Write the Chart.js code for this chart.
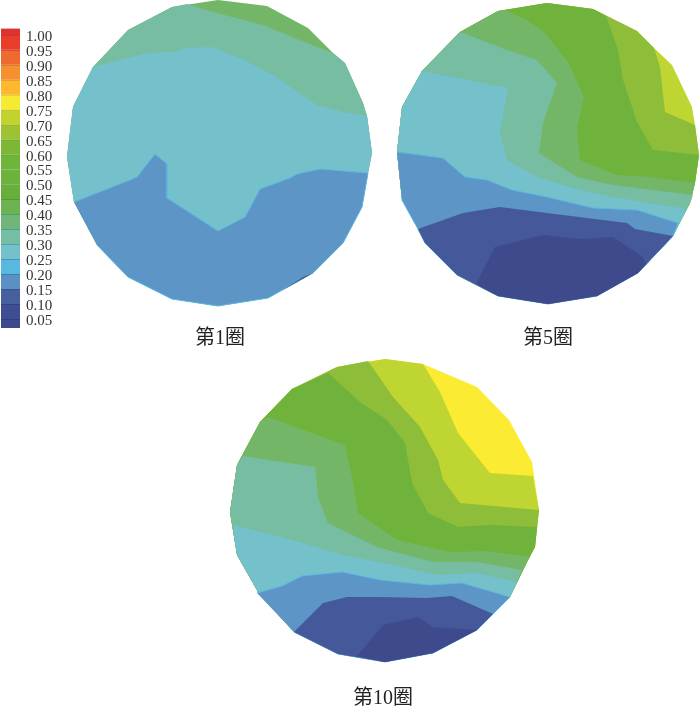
<!DOCTYPE html>
<html><head><meta charset="utf-8">
<script src="https://cdn.jsdelivr.net/npm/chart.js@4/dist/chart.umd.min.js"></script>
<style>
html,body{margin:0;padding:0;background:#fff;overflow:hidden;width:700px;height:706px}
canvas{position:absolute;display:block}
</style></head><body>
<canvas id="bar" width="56" height="344" style="left:1px;top:5px"></canvas>
<canvas id="c1" width="320" height="349" style="left:60px;top:0"></canvas>
<canvas id="c5" width="304" height="349" style="left:396px;top:0"></canvas>
<canvas id="c10" width="320" height="354" style="left:223px;top:355px"></canvas>
<script>
// colour bar
const barEdges=[1.02,1.00,0.95,0.90,0.85,0.80,0.75,0.70,0.65,0.60,0.55,0.50,0.45,0.40,0.35,0.30,0.25,0.20,0.15,0.10,0.05,0.02];
const barColors=['#dc3230','#ea3c2b','#ee6a2f','#f58f2f','#fdb82e','#f6ea32','#c3d22f','#9dc232','#7cb735','#6fb53a','#6db33b','#68ae3a','#6eb351','#72b57a','#74bfa4','#74c0cb','#58b9e0','#5b90c4','#46609f','#3f4e93','#3e4a8e'];
const barEdgeColors=['#dc3230','#a83026','#b03a22','#c06a22','#c8902a','#d0b82a','#a8b82a','#86a82a','#5fa02f','#4fa030','#4fa030','#3f8a2e','#3f9040','#3a9a78','#3fa090','#40a0a8','#4090b8','#3f70a8','#30457f','#2c3a78','#2c3a78'];
const tickLabels=[1.00,0.95,0.90,0.85,0.80,0.75,0.70,0.65,0.60,0.55,0.50,0.45,0.40,0.35,0.30,0.25,0.20,0.15,0.10,0.05];

// shared band colours
const YEL='#fbec33',LIME='#bfd531',OLV='#8dbd39',GRN='#6fb33c',LGRN='#73b668',TEAL='#76bda2',CYAN='#74c0cb',BLUE='#5c95c6',NAVY='#45599a',DARK='#3f4a8d';
const RIMLINE='#5ab8e0';

// circle 1
const title1='第1圈';
const rim1=[[218,0],[267,6],[308,28],[333,53],[345,63],[363,103],[367,116],[372,153],[368,173],[362,207],[343,243],[313,273],[268,298],[218,306],[172,299],[128,277],[97,245],[74,202],[67,157],[73,107],[93,67],[128,30],[172,7]];
const colors1=[LGRN,TEAL,CYAN,BLUE,NAVY];
const iso1=[
 [[187,4],[217,13],[263,25],[307,43],[333,53]],
 [[93,67],[147,53],[173,52],[185,48],[212,47],[240,58],[273,75],[317,105],[343,112],[367,116]],
 [[74,202],[130,180],[137,177],[155,154],[167,164],[167,198],[218,231],[245,217],[250,208],[260,189],[290,178],[297,174],[320,169],[368,173]],
 [[283,290],[303,277],[313,273]]
];

// circle 5
const title5='第5圈';
const rim5=[[547,3],[593,9],[637,31],[654,48],[672,65],[692,107],[695,125],[699,155],[695,183],[690,203],[673,236],[638,273],[597,296],[548,304],[498,296],[457,275],[425,243],[418,229],[402,200],[397,152],[402,107],[422,71],[460,32],[498,11]];
const colors5=[LIME,OLV,GRN,LGRN,TEAL,CYAN,BLUE,NAVY,DARK];
const iso5=[
 [[654,48],[660,67],[665,112],[695,125]],
 [[606,16],[618,50],[623,80],[637,122],[653,150],[699,155]],
 [[505,10],[527,20],[545,33],[568,62],[584,97],[577,128],[580,160],[617,175],[650,177],[695,183]],
 [[460,32],[507,50],[537,60],[557,83],[543,123],[539,153],[577,177],[613,185],[637,188],[693,195]],
 [[422,71],[508,88],[500,132],[507,160],[540,178],[580,190],[613,197],[687,209]],
 [[397,152],[443,158],[465,177],[487,180],[512,190],[547,197],[593,208],[637,210],[678,223]],
 [[418,229],[463,213],[500,207],[547,213],[627,223],[635,229],[673,236]],
 [[476,284],[495,247],[543,235],[580,239],[613,237],[643,257],[646,264]]
];

// circle 10
const title10='第10圈';
const rim10=[[385,359],[423,364],[477,387],[509,420],[532,462],[539,510],[535,547],[528,560],[510,597],[477,630],[433,653],[385,662],[338,654],[294,632],[258,592],[237,555],[230,512],[237,465],[260,422],[292,389],[337,367]];
const colors10=[YEL,LIME,OLV,GRN,LGRN,TEAL,CYAN,BLUE,NAVY,DARK];
const iso10=[
 [[423,364],[440,392],[458,433],[490,473],[533,476]],
 [[368,361],[393,397],[420,427],[438,460],[443,480],[460,503],[539,510]],
 [[328,373],[360,402],[387,420],[405,443],[412,483],[428,513],[458,527],[490,525],[537,527]],
 [[268,417],[345,445],[352,477],[358,513],[397,540],[450,552],[487,551],[530,557]],
 [[243,456],[315,467],[318,497],[328,523],[377,547],[433,562],[477,562],[522,570]],
 [[233,525],[285,538],[343,555],[393,565],[437,575],[477,573],[517,582]],
 [[257,593],[282,586],[302,576],[342,572],[380,580],[430,585],[462,583],[510,597]],
 [[294,632],[323,603],[347,597],[380,597],[427,598],[452,596],[493,614]],
 [[357,656],[383,625],[418,617],[433,627],[477,630]]
];

const FONT='"Liberation Serif","Noto Sans CJK SC",serif';
const TWO_PI=Math.PI*2;

// A band is the contour line closed along the rim, clockwise from its end back to its start.
function bandPolygon(line,rim){
  const cx=rim.reduce((s,p)=>s+p[0],0)/rim.length, cy=rim.reduce((s,p)=>s+p[1],0)/rim.length;
  const ang=p=>Math.atan2(p[1]-cy,p[0]-cx);
  const a0=ang(line[line.length-1]);
  const off=p=>((ang(p)-a0)%TWO_PI+TWO_PI)%TWO_PI;
  const span=off(line[0]);
  const arc=rim.filter(p=>off(p)>0.005&&off(p)<span-0.005).sort((p,q)=>off(p)-off(q));
  return line.concat(arc);
}
function dataset(poly,color){
  const edged=color===BLUE;
  return {data:poly.map(p=>({x:p[0],y:p[1]})),showLine:true,fill:'shape',backgroundColor:color,
    borderColor:edged?RIMLINE:color,borderWidth:edged?1:0,pointRadius:0,tension:0};
}
function disc(id,rim,iso,colors,title,x0,x1,y0,y1,titleTop){
  const sets=[dataset(rim,colors[0])];
  iso.forEach((l,i)=>sets.push(dataset(bandPolygon(l,rim),colors[i+1])));
  sets.reverse(); // Chart.js paints the last dataset first
  new Chart(document.getElementById(id),{type:'scatter',data:{datasets:sets},options:{
    responsive:false,animation:false,events:[],
    layout:{padding:0},
    plugins:{legend:{display:false},tooltip:{enabled:false},
      title:{display:true,text:title,position:'bottom',color:'#222',padding:{top:titleTop,bottom:0},font:{family:FONT,size:20,weight:'normal',lineHeight:1}}},
    scales:{x:{type:'linear',display:false,min:x0,max:x1},y:{type:'linear',display:false,reverse:true,min:y0,max:y1}}
  }});
}
disc('c1',rim1,iso1,colors1,title1,60,380,0,327,2);
disc('c5',rim5,iso5,colors5,title5,396,700,0,327,2);
disc('c10',rim10,iso10,colors10,title10,223,543,355,686,3);

new Chart(document.getElementById('bar'),{type:'bar',
  data:{labels:[''],datasets:barColors.map((c,i)=>({data:[[barEdges[i+1],barEdges[i]]],backgroundColor:c,borderColor:barEdgeColors[i],borderWidth:{top:i?1:0,bottom:0,left:0,right:0},borderSkipped:false,barPercentage:1,categoryPercentage:1}))},
  options:{responsive:false,animation:false,events:[],layout:{padding:0},
    plugins:{legend:{display:false},tooltip:{enabled:false}},
    scales:{x:{display:false,stacked:true},
      y:{position:'right',min:-0.05,max:1.1,border:{display:false},grid:{display:false,drawTicks:false},
        afterBuildTicks:s=>{s.ticks=tickLabels.map(v=>({value:v}));},
        afterFit:s=>{s.width=37;s.paddingTop=0;s.paddingBottom=0;},
        ticks:{autoSkip:false,padding:6,labelOffset:2,color:'#333',font:{family:FONT,size:15},callback:v=>Number(v).toFixed(2)}}}
  }});
</script>
</body></html>
